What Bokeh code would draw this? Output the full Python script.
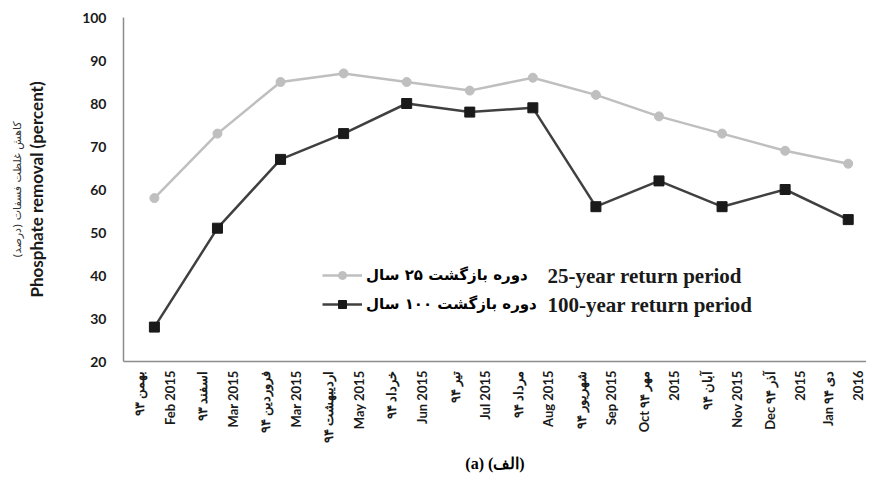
import math
from bokeh.plotting import figure
from bokeh.models import FixedTicker, Range1d, Label, Legend, LegendItem, LinearAxis, Title
from bokeh.embed import file_html
from bokeh.resources import INLINE

# ---- data ----
months_fa = ["بهمن ۹۳", "اسفند ۹۳", "فروردین ۹۴", "اردیبهشت ۹۴", "خرداد ۹۴", "تیر ۹۴",
             "مرداد ۹۴", "شهریور ۹۴", "Oct مهر ۹۴", "آبان ۹۴", "Dec آذر ۹۴", "Jan دی ۹۴"]
months_en = ["Feb 2015", "Mar 2015", "Mar 2015", "May 2015", "Jun 2015", "Jul 2015",
             "Aug 2015", "Sep 2015", "2015", "Nov 2015", "2015", "2016"]
removal_25 = [58, 73, 85, 87, 85, 83, 86, 82, 77, 73, 69, 66]
removal_100 = [28, 51, 67, 73, 80, 78, 79, 56, 62, 56, 60, 53]
y_ticks = [20, 30, 40, 50, 60, 70, 80, 90, 100]
legend_fa = ["دوره بازگشت ۲۵ سال", "دوره بازگشت ۱۰۰ سال"]
legend_en = ["25-year return period", "100-year return period"]
y_title_en = "Phosphate removal (percent)"
y_title_fa = "کاهش غلظت فسفات (درصد)"
caption = "(a) (الف)"

xs = list(range(len(months_en)))

p = figure(width=866, height=478, output_backend="svg", toolbar_location=None,
           x_range=Range1d(-0.49, 11.29), y_range=Range1d(20, 100),
           min_border_left=123, min_border_right=0, min_border_top=17, min_border_bottom=116)
p.outline_line_color = None
p.xgrid.visible = False
p.ygrid.visible = False

r25 = p.line(xs, removal_25, line_color="#BFBFBF", line_width=2.5)
c25 = p.scatter(xs, removal_25, marker="circle", size=9, fill_color="#BFBFBF", line_color="#BFBFBF")
r100 = p.line(xs, removal_100, line_color="#404040", line_width=2.5)
s100 = p.scatter(xs, removal_100, marker="square", size=10, fill_color="#1A1A1A", line_color="#1A1A1A")

# y axis
p.yaxis.ticker = FixedTicker(ticks=y_ticks)
p.yaxis.major_tick_out = 0
p.yaxis.major_tick_in = 0
p.yaxis.minor_tick_out = 0
p.yaxis.minor_tick_in = 0
p.yaxis.axis_line_color = "#8C8C8C"
p.yaxis.axis_line_width = 1.5
p.yaxis.major_label_text_font = "Lato"
p.yaxis.major_label_text_font_style = "bold"
p.yaxis.major_label_text_font_size = "14px"
p.yaxis.major_label_text_color = "#1A1A1A"
p.yaxis.major_label_standoff = 17
p.yaxis.axis_label = y_title_en
p.yaxis.axis_label_text_font = "Lato"
p.yaxis.axis_label_text_font_style = "bold"
p.yaxis.axis_label_text_font_size = "17px"
p.yaxis.axis_label_text_color = "#1A1A1A"
p.yaxis.axis_label_standoff = 32

# extra axis carrying the Persian title
fa_axis = LinearAxis(ticker=FixedTicker(ticks=[]), axis_line_color=None,
                     major_tick_out=0, minor_tick_out=0, major_tick_in=0, minor_tick_in=0,
                     major_label_text_font_size="0px", major_label_standoff=0,
                     axis_label=y_title_fa, axis_label_text_font="DejaVu Sans",
                     axis_label_text_font_style="normal", axis_label_text_font_size="11px",
                     axis_label_text_color="#333333", axis_label_standoff=0)
p.add_layout(fa_axis, "left")

# x axis
p.xaxis.ticker = FixedTicker(ticks=xs)
p.xaxis.major_label_overrides = {i: months_fa[i] + "\n" + months_en[i] for i in xs}
p.xaxis.major_label_orientation = math.pi / 2
p.xaxis.major_tick_out = 0
p.xaxis.major_tick_in = 0
p.xaxis.minor_tick_out = 0
p.xaxis.minor_tick_in = 0
p.xaxis.axis_line_color = "#8C8C8C"
p.xaxis.axis_line_width = 1.5
p.xaxis.major_label_text_font = "Lato"
p.xaxis.major_label_text_font_style = "bold"
p.xaxis.major_label_text_font_size = "13px"
p.xaxis.major_label_text_color = "#1A1A1A"
p.xaxis.major_label_text_line_height = 1.9
p.xaxis.major_label_standoff = 9

# legend
legend = Legend(items=[LegendItem(label=legend_fa[0], renderers=[r25, c25]),
                       LegendItem(label=legend_fa[1], renderers=[r100, s100])],
                location=(199, 47))
legend.border_line_color = None
legend.background_fill_alpha = 0
legend.padding = 0
legend.margin = 0
legend.spacing = 9
legend.glyph_width = 40
legend.glyph_height = 20
legend.label_height = 20
legend.label_text_font = "DejaVu Sans"
legend.label_text_font_style = "bold"
legend.label_text_font_size = "15px"
legend.label_text_color = "#000000"
legend.label_standoff = 4
p.add_layout(legend, "center")

for i, txt in enumerate(legend_en):
    p.add_layout(Label(x=424, y=86 - 29 * i, x_units="screen", y_units="screen", text=txt,
                       text_font="Liberation Serif", text_font_style="bold",
                       text_font_size="21px", text_baseline="middle", text_color="#1A1A1A"))

# caption
p.add_layout(Title(text=caption, align="center", text_font="Liberation Serif",
                   text_font_style="bold", text_font_size="16px", text_color="#000000",
                   standoff=14), "below")

open("out.html", "w").write(file_html(p, INLINE))
